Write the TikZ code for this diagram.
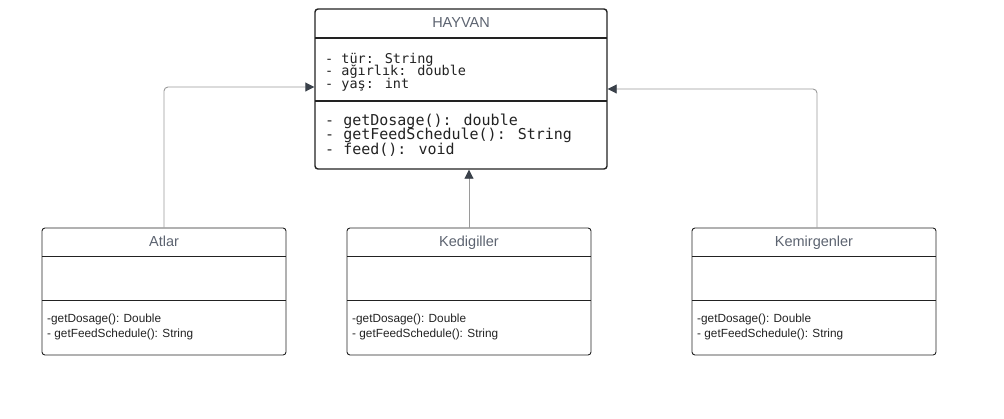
\documentclass[tikz,border=0pt]{standalone}
\usepackage{fontspec}
\setmainfont{Liberation Sans}
\newfontfamily\monof{DejaVu Sans Mono}
\usetikzlibrary{arrows.meta,calc}
\definecolor{bord}{HTML}{222222}
\definecolor{headc}{HTML}{5C6370}
\definecolor{linec}{HTML}{9A9A9A}
\definecolor{tipc}{HTML}{3A414A}
\definecolor{txtc}{HTML}{222222}
\tikzset{
  big/.style={draw=bord, line width=1.4pt, rounded corners=3pt, minimum width=292pt, minimum height=160pt, inner sep=0pt},
  cls/.style={draw=bord, line width=0.9pt, rounded corners=3pt, minimum width=244pt, minimum height=127pt, inner sep=0pt},
  title/.style={text=headc, font=\fontsize{14.5}{16}\selectfont, inner sep=0pt, anchor=base},
  mtxt/.style={text=txtc, font=\fontsize{11.8}{15}\selectfont, inner sep=0pt, anchor=base west},
  attr/.style={text=txtc, font=\monof\fontsize{13.5}{12.5}\selectfont, inner sep=0pt, anchor=base west},
  meth/.style={text=txtc, font=\monof\fontsize{15}{14.5}\selectfont, inner sep=0pt, anchor=base west},
  gen/.style={draw=linec, line width=0.9pt, rounded corners=4pt, -{Triangle[length=9pt,width=9pt,color=tipc]}},
}
\begin{document}
\begin{tikzpicture}[x=1pt,y=-1pt]
\useasboundingbox (0,0) rectangle (1004,418);
% HAYVAN
\node[big] (hayvan) at (461,89) {};
\draw[bord, line width=1.4pt] (315,38) -- (607,38) (315,101) -- (607,101);
\node[title] (htitle) at (461,27) {HAYVAN};
\node[attr] (ha1) at (325,63) {- tür: String};
\node[attr] (ha2) at (325,75.5) {- ağırlık: double};
\node[attr] (ha3) at (325,88) {- yaş: int};
\node[meth] (hm1) at (325,125) {- getDosage(): double};
\node[meth] (hm2) at (325,139.5) {- getFeedSchedule(): String};
\node[meth] (hm3) at (325,154) {- feed(): void};
% Atlar
\node[cls] (atlar) at (164,291.5) {};
\draw[bord, line width=0.9pt] (42,256) -- (286,256) (42,300) -- (286,300);
\node[title] (atitle) at (164,246) {Atlar};
\node[mtxt] (am1) at (47,322.5) {-getDosage(): Double};
\node[mtxt] (am2) at (47,337) {- getFeedSchedule(): String};
% Kedigiller
\node[cls] (kedi) at (469,291.5) {};
\draw[bord, line width=0.9pt] (347,256) -- (591,256) (347,300) -- (591,300);
\node[title] (ktitle) at (469,246) {Kedigiller};
\node[mtxt] (km1) at (352,322.5) {-getDosage(): Double};
\node[mtxt] (km2) at (352,337) {- getFeedSchedule(): String};
% Kemirgenler
\node[cls] (kemir) at (814,291.5) {};
\draw[bord, line width=0.9pt] (692,256) -- (936,256) (692,300) -- (936,300);
\node[title] (ktitle2) at (814,246) {Kemirgenler};
\node[mtxt] (kr1) at (697,322.5) {-getDosage(): Double};
\node[mtxt] (kr2) at (697,337) {- getFeedSchedule(): String};
% connectors
\draw[gen] (atlar.north) |- ($(hayvan.west)+(0,-2)$);
\draw[gen] (kedi.north) -- (kedi.north |- hayvan.south);
\draw[gen] ($(kemir.north)+(3,0)$) |- (hayvan.east);
\end{tikzpicture}
\end{document}
